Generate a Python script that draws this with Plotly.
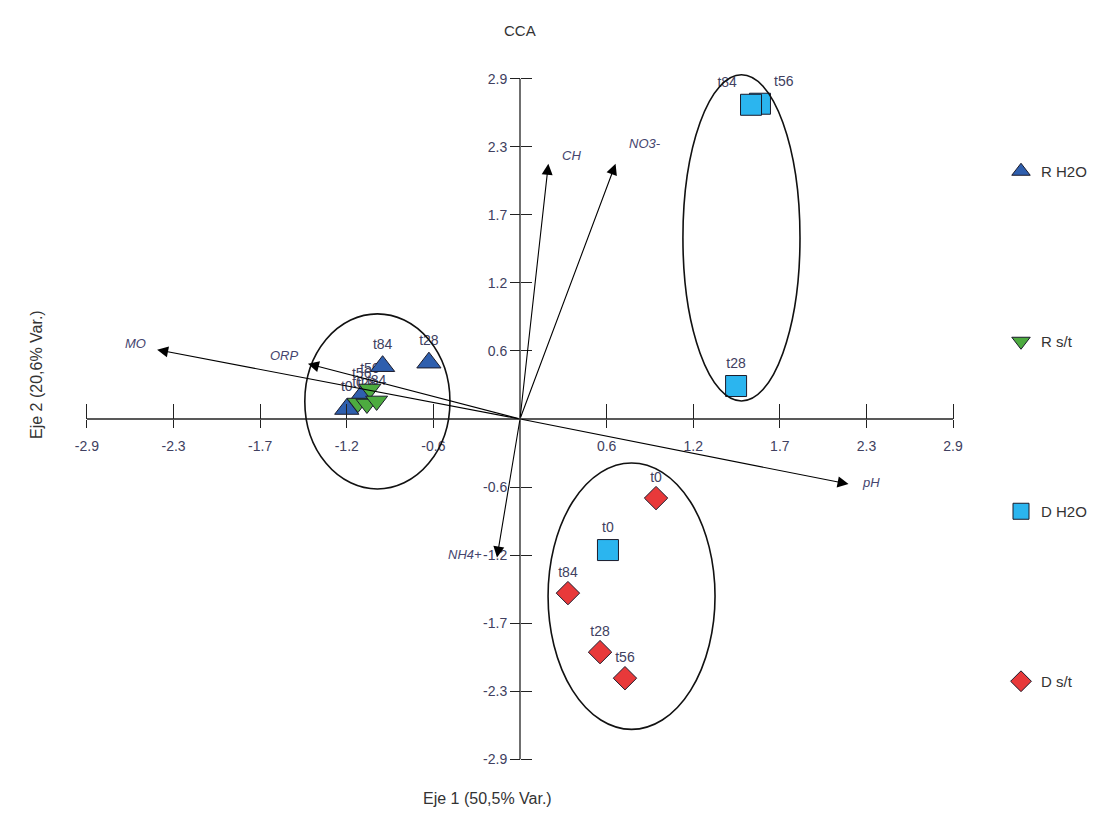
import plotly.graph_objects as go

# ---------------- data ----------------
TIME_LABELS = ["t0", "t28", "t56", "t84"]

rh2o_x = [-1.16, -0.61, -1.06, -0.92]
rh2o_y = [0.085, 0.48, 0.20, 0.45]

rst_x = [-1.085, -1.025, -1.005, -0.96]
rst_y = [0.136, 0.128, 0.256, 0.154]

dh2o_x = [0.589, 1.447, 1.607, 1.547]
dh2o_y = [-1.117, 0.281, 2.687, 2.678]

dst_x = [0.911, 0.536, 0.703, 0.321]
dst_y = [-0.674, -1.987, -2.209, -1.484]

SERIES = ["R H2O", "R s/t", "D H2O", "D s/t"]

VAR_NAMES = ["MO", "ORP", "CH", "NO3-", "pH", "NH4+"]
VAR_X = [-2.43, -1.42, 0.19, 0.64, 2.20, -0.154]
VAR_Y = [0.59, 0.47, 2.175, 2.175, -0.555, -1.18]

# ellipses: centre and radii (data units)
ELL_CX = [-0.955, 1.483, 0.747]
ELL_CY = [0.15, 1.544, -1.51]
ELL_RX = [0.486, 0.392, 0.559]
ELL_RY = [0.746, 1.39, 1.135]

TICK_VALS = [-2.9, -2.32, -1.74, -1.16, -0.58, 0.58, 1.16, 1.74, 2.32, 2.9]
TICK_TEXT = ["-2.9", "-2.3", "-1.7", "-1.2", "-0.6", "0.6", "1.2", "1.7", "2.3", "2.9"]

# ---------------- style ----------------
FONT = "Liberation Sans, Arial, sans-serif"
TXT = "#404060"
LBL_OFFSETS = [(-22, 6), (-23, 8), (23, 8), (29, 20), (22, 2), (-32, 3)]
TEXTPOS = [
    ["top center"] * 4,
    ["top center"] * 4,
    ["top center", "top center", "top right", "top left"],
    ["top center"] * 4,
]
RANGE = [-3.0, 3.0]
OFF = 8  # page body margin
W, H = 1100, 801
ML, MR, MT, MB = 64, 140, 59, 38
PW, PH = W - ML - MR, H - MT - MB


def px_to_paper(sx, sy):
    px, py = sx - OFF, sy - OFF
    return (px - ML) / PW, (H - MB - py) / PH


fig = go.Figure()

styles = [
    dict(symbol="triangle-up", color="#2f5fae", size=21),
    dict(symbol="triangle-down", color="#4dab3f", size=19),
    dict(symbol="square", color="#2bb5ef", size=21),
    dict(symbol="diamond", color="#e8393a", size=18),
]
xs = [rh2o_x, rst_x, dh2o_x, dst_x]
ys = [rh2o_y, rst_y, dh2o_y, dst_y]
legend_ids = ["legend", "legend2", "legend3", "legend4"]

# point labels first, so visible markers are drawn over them (as in the original)
for i, name in enumerate(SERIES):
    st = styles[i]
    fig.add_trace(go.Scatter(
        x=xs[i], y=ys[i], mode="markers+text", text=TIME_LABELS,
        textposition=TEXTPOS[i],
        textfont=dict(family=FONT, size=14, color=TXT), showlegend=False,
        hoverinfo="skip", cliponaxis=False,
        marker=dict(symbol=st["symbol"], size=st["size"], opacity=0),
    ))

for i, name in enumerate(SERIES):
    st = styles[i]
    fig.add_trace(go.Scatter(
        x=xs[i], y=ys[i], name=name, legend=legend_ids[i],
        mode="markers",
        marker=dict(symbol=st["symbol"], color=st["color"], size=st["size"],
                    line=dict(color="#1b1b2b", width=1)),
        cliponaxis=False,
    ))

# dummy trace to create overlay axes for crossing ticks
fig.add_trace(go.Scatter(x=[0], y=[0], xaxis="x2", yaxis="y2", mode="markers",
                         marker=dict(opacity=0), showlegend=False, hoverinfo="skip"))

# ellipses
for cx, cy, rx, ry in zip(ELL_CX, ELL_CY, ELL_RX, ELL_RY):
    fig.add_shape(type="circle", xref="x", yref="y",
                  x0=cx - rx, x1=cx + rx, y0=cy - ry, y1=cy + ry,
                  line=dict(color="#111111", width=1.6), layer="above")

# axis lines from first to last tick
fig.add_shape(type="line", xref="x", yref="y", x0=TICK_VALS[0], x1=TICK_VALS[-1],
              y0=0, y1=0, line=dict(color="#222222", width=1.3), layer="below")
fig.add_shape(type="line", xref="x", yref="y", y0=TICK_VALS[0], y1=TICK_VALS[-1],
              x0=0, x1=0, line=dict(color="#222222", width=1.3), layer="below")

# biplot arrows and labels
for name, vx, vy, (dx, dy) in zip(VAR_NAMES, VAR_X, VAR_Y, LBL_OFFSETS):
    fig.add_annotation(x=vx, y=vy, ax=0, ay=0, xref="x", yref="y", axref="x", ayref="y",
                       text="", showarrow=True, arrowhead=2, arrowsize=2,
                       arrowwidth=1.1, arrowcolor="#000000", standoff=0)
    fig.add_annotation(x=vx, y=vy, xref="x", yref="y", text="<i>%s</i>" % name,
                       showarrow=False, xshift=dx, yshift=dy,
                       xanchor="center", yanchor="middle",
                       font=dict(family=FONT, size=13, color="#45456e"))

# axis titles and title
tx, ty = px_to_paper(520, 30)
fig.add_annotation(text="CCA", xref="paper", yref="paper", x=tx, y=ty,
                   xanchor="center", yanchor="middle",
                   showarrow=False, font=dict(family=FONT, size=15, color="#333333"))
tx, ty = px_to_paper(487, 798)
fig.add_annotation(text="Eje 1 (50,5% Var.)", xref="paper", yref="paper",
                   x=tx, y=ty, showarrow=False, xanchor="center", yanchor="middle",
                   font=dict(family=FONT, size=16, color="#333333"))
tx, ty = px_to_paper(36, 375)
fig.add_annotation(text="Eje 2 (20,6% Var.)", xref="paper", yref="paper",
                   x=tx, y=ty, showarrow=False, textangle=-90,
                   xanchor="center", yanchor="middle",
                   font=dict(family=FONT, size=16, color="#333333"))

axis_common = dict(range=RANGE, tickmode="array", tickvals=TICK_VALS,
                   showgrid=False, zeroline=False, showline=False,
                   anchor="free", position=0.5, tickcolor="#222222", tickwidth=1.2)

legend_centres = [170, 340, 510, 680]  # screen y of legend items
legends = {}
for lid, cy in zip(legend_ids, legend_centres):
    top = cy - OFF - 15
    legends[lid] = dict(xref="container", yref="container", x=993 / W, y=1 - top / H,
                        xanchor="left", yanchor="top", bgcolor="rgba(0,0,0,0)",
                        font=dict(family=FONT, size=15, color="#333333"))

fig.update_layout(
    width=W, height=H,
    margin=dict(l=ML, r=MR, t=MT, b=MB),
    paper_bgcolor="white", plot_bgcolor="white",
    font=dict(family=FONT, color="#333333"),
    showlegend=True,
    xaxis=dict(**axis_common, ticktext=TICK_TEXT, ticks="outside", ticklen=8,
               ticklabelstandoff=6,
               tickfont=dict(family=FONT, size=14, color=TXT)),
    yaxis=dict(**axis_common, ticktext=TICK_TEXT, ticks="outside", ticklen=10,
               tickfont=dict(family=FONT, size=14, color=TXT)),
    xaxis2=dict(**axis_common, overlaying="x", ticks="inside", ticklen=15,
                showticklabels=False),
    yaxis2=dict(**axis_common, overlaying="y", ticks="inside", ticklen=11,
                showticklabels=False),
    **legends,
)

fig.write_html("out.html")
